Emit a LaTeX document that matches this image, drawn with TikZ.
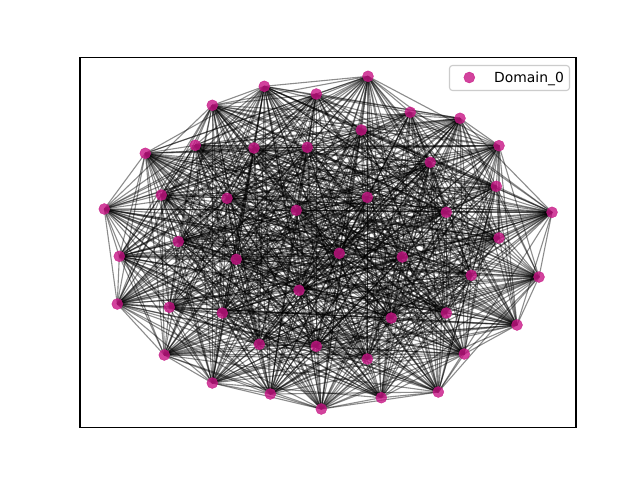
\documentclass[tikz,border=0pt]{standalone}
\usepackage{fontspec}
\setmainfont{DejaVu Sans}
\usetikzlibrary{backgrounds}
\definecolor{mvr}{RGB}{199,21,133}
\begin{document}
\begin{tikzpicture}[x=1pt,y=-1pt,
  dot/.style={circle,fill=mvr,fill opacity=0.8,draw=mvr,draw opacity=0.8,line width=0.4pt,inner sep=0pt,minimum size=11pt},
  edge/.style={black,opacity=0.45,line width=1.1pt},
  frame/.style={black,line width=1.1pt},
  legendbox/.style={draw=black!20,fill=white,fill opacity=0.8,rounded corners=3pt,line width=1.1pt}]
\useasboundingbox (0,0) rectangle (640,480);
\foreach \x/\y [count=\i] in {
264.3/86.3, 368/76.3, 316.3/94, 212.3/105.3, 410.3/112.3, 460/118.3,
361.3/130, 195.3/145.3, 254/148, 307.3/147.3, 145.3/153.3, 499/145.7,
430.3/162.3, 161.3/195, 227/198.3, 496.3/186.3, 367.3/197.3, 104.3/209,
296.3/210.3, 446.3/212.3, 552/212.3, 178.3/241.5, 499/238, 339.3/253.3,
119.3/256.3, 236.3/259.3, 402.3/257, 471.3/275.3, 539/277, 299/290.3,
117.3/304, 169.3/307.3, 222.3/313, 446.3/313, 391.3/318, 517/325,
259.3/344.3, 316.3/346.3, 164.3/355, 367.3/359, 464.3/354, 212.3/383,
270.3/394, 321.3/409, 381.3/397.7, 438.3/392}
  \node[dot] (n\i) at (\x,\y) {};
\begin{pgfonlayer}{background}
  \fill[white] (0,0) rectangle (640,480);
  \pgfmathsetseed{11}
  \foreach \i in {1,...,45}{
    \pgfmathtruncatemacro\s{\i+1}
    \foreach \j in {\s,...,46}{
      \pgfmathtruncatemacro\r{100*rnd}
      \ifnum\r<78 \draw[edge] (n\i.center) -- (n\j.center); \fi
    }
  }
\end{pgfonlayer}
\draw[frame] (80,57.6) rectangle (576,427.2);
\node[legendbox,minimum width=120pt,minimum height=25pt,inner sep=0pt] (leg) at (509.5,78) {};
\node[dot] (legdot) at (469.3,77.5) {};
\node[anchor=base west,font=\fontsize{13.9}{16}\selectfont,inner sep=0pt] (legtext) at (494,82.5) {Domain\_0};
\end{tikzpicture}
\end{document}
